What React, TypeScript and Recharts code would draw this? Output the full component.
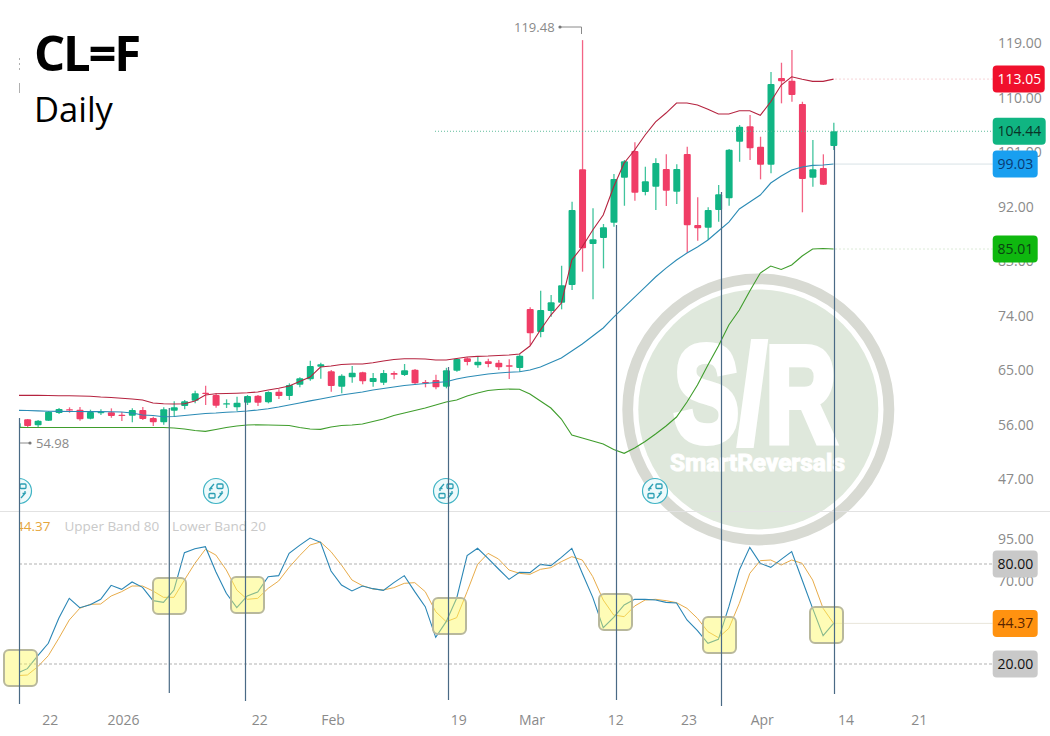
import { ComposedChart, Bar, Line, XAxis, YAxis, ReferenceLine } from 'recharts';

const PAGE_W = 1050;
const PLOT_LEFT = 11.67;
const AXIS_W = 64.62;
const LABEL_FONT = '"Open Sans", sans-serif';
const PRICE_DOMAIN = [41.95, 126.1];
const OSC_DOMAIN = [-5.2, 112.4];

// trading days, then the empty calendar days the platform leaves at the right
const dates = [
  '2025-12-17', '2025-12-18', '2025-12-19', '2025-12-22', '2025-12-23', '2025-12-24', '2025-12-26', '2025-12-29', '2025-12-30', '2025-12-31',
  '2026-01-02', '2026-01-05', '2026-01-06', '2026-01-07', '2026-01-08', '2026-01-09', '2026-01-12', '2026-01-13', '2026-01-14', '2026-01-15',
  '2026-01-16', '2026-01-20', '2026-01-21', '2026-01-22', '2026-01-23', '2026-01-26', '2026-01-27', '2026-01-28', '2026-01-29', '2026-01-30',
  '2026-02-02', '2026-02-03', '2026-02-04', '2026-02-05', '2026-02-06', '2026-02-09', '2026-02-10', '2026-02-11', '2026-02-12', '2026-02-13',
  '2026-02-17', '2026-02-18', '2026-02-19', '2026-02-20', '2026-02-23', '2026-02-24', '2026-02-25', '2026-02-26', '2026-02-27', '2026-03-02',
  '2026-03-03', '2026-03-04', '2026-03-05', '2026-03-06', '2026-03-09', '2026-03-10', '2026-03-11', '2026-03-12', '2026-03-13', '2026-03-16',
  '2026-03-17', '2026-03-18', '2026-03-19', '2026-03-20', '2026-03-23', '2026-03-24', '2026-03-25', '2026-03-26', '2026-03-27', '2026-03-30',
  '2026-03-31', '2026-04-01', '2026-04-02', '2026-04-06', '2026-04-07', '2026-04-08', '2026-04-09', '2026-04-10', '2026-04-13', '2026-04-14',
  '2026-04-15', '2026-04-16', '2026-04-17', '2026-04-18', '2026-04-19', '2026-04-20', '2026-04-21', '2026-04-22', '2026-04-23', '2026-04-24',
  '2026-04-25', '2026-04-26', '2026-04-27',
];

const xTicks = ['2025-12-22', '2026-01-02', '2026-01-22', '2026-02-02', '2026-02-19', '2026-03-02', '2026-03-12', '2026-03-23', '2026-04-01', '2026-04-14', '2026-04-21'];
const xTickLabels = ['22', '2026', '22', 'Feb', '19', 'Mar', '12', '23', 'Apr', '14', '21'];
const priceTicks = [47, 56, 65, 74, 83, 92, 101, 110, 119];
const oscTicks = [95, 70];

const opens = [
  55.48, 56.91, 55.92, 56.68, 57.95, 58.56, 58.50, 57.01, 57.95, 58.07,
  57.67, 57.51, 58.45, 57.12, 56.41, 58.33, 59.10, 59.98, 61.30, 60.92,
  59.39, 58.89, 59.65, 60.80, 59.72, 61.47, 60.76, 62.62, 63.51, 65.59,
  64.83, 62.29, 63.84, 64.67, 63.07, 62.95, 64.55, 64.22, 65.09, 63.07,
  63.40, 62.29, 64.93, 66.97, 65.82, 66.48, 66.25, 65.82, 65.37, 75.11,
  71.32, 74.78, 76.15, 79.07, 98.16, 85.84, 86.82, 89.35, 96.78, 101.18,
  94.42, 95.29, 98.21, 94.46, 100.69, 88.97, 88.52, 91.45, 93.37, 102.71,
  105.26, 101.89, 98.92, 113.23, 112.78, 108.93, 96.78, 98.38, 102.00,
];
const highs = [
  56.96, 56.96, 56.80, 58.28, 58.78, 58.89, 58.94, 58.50, 58.56, 58.72,
  58.12, 58.72, 58.94, 57.34, 58.89, 59.88, 60.10, 61.63, 62.45, 61.20,
  60.21, 60.64, 60.92, 60.92, 61.53, 61.86, 62.85, 63.84, 66.58, 66.25,
  65.05, 64.33, 65.70, 64.77, 64.55, 65.05, 64.83, 66.04, 65.21, 63.40,
  64.27, 65.41, 66.97, 67.14, 67.36, 66.91, 66.69, 66.81, 67.63, 75.39,
  78.13, 77.42, 82.25, 92.82, 119.48, 91.72, 89.14, 97.39, 99.70, 102.62,
  98.59, 99.97, 100.64, 98.99, 101.89, 93.54, 91.89, 95.57, 101.51, 105.47,
  107.12, 103.54, 114.22, 115.75, 117.85, 109.31, 102.99, 100.64, 105.85,
];
const lows = [
  54.98, 55.64, 55.60, 56.63, 57.79, 58.00, 56.68, 56.91, 57.62, 57.17,
  56.63, 56.41, 56.80, 55.80, 56.02, 57.34, 58.56, 59.55, 59.27, 58.83,
  58.78, 58.33, 59.27, 59.10, 59.55, 60.26, 60.10, 62.19, 63.28, 63.61,
  61.47, 61.20, 62.95, 62.68, 62.29, 62.57, 63.51, 64.06, 62.57, 62.19,
  61.86, 62.02, 64.77, 65.82, 65.42, 65.49, 65.05, 63.56, 64.77, 69.17,
  70.44, 73.84, 75.06, 78.25, 81.27, 76.71, 81.82, 88.69, 92.15, 92.98,
  93.87, 91.45, 92.10, 92.43, 84.39, 86.38, 86.50, 89.51, 92.15, 99.41,
  99.70, 96.51, 97.50, 109.05, 109.31, 91.07, 95.29, 95.57, 101.34,
];
const closes = [
  56.30, 55.80, 56.68, 58.17, 58.61, 58.40, 56.91, 58.12, 58.12, 57.46,
  57.46, 58.45, 56.96, 56.41, 58.56, 58.89, 59.88, 61.20, 61.09, 59.15,
  59.55, 59.65, 60.76, 59.65, 61.42, 60.76, 62.57, 63.67, 65.70, 65.99,
  62.40, 64.10, 64.60, 63.18, 63.73, 64.55, 64.27, 64.99, 62.85, 62.85,
  62.19, 64.99, 66.86, 66.36, 66.41, 66.04, 65.49, 65.59, 67.40, 71.10,
  74.95, 76.22, 79.02, 91.45, 85.12, 86.61, 88.59, 96.56, 99.48, 94.30,
  96.18, 99.20, 94.63, 98.21, 88.92, 88.43, 91.45, 94.03, 101.40, 105.19,
  101.63, 98.92, 112.24, 112.68, 110.42, 96.56, 98.16, 95.62, 104.44,
];

const upperBand = [
  60.87, 60.87, 60.87, 60.84, 60.80, 60.79, 60.76, 60.71, 60.59, 60.51,
  60.38, 60.26, 60.10, 59.60, 59.49, 59.44, 59.49, 59.93, 60.92, 61.14,
  61.17, 61.22, 61.30, 61.42, 61.75, 62.03, 62.41, 63.15, 63.89, 65.54,
  65.71, 65.95, 66.04, 66.04, 66.25, 66.53, 66.78, 66.91, 66.91, 66.86,
  66.69, 66.69, 66.94, 67.19, 67.30, 67.35, 67.44, 67.52, 67.69, 69.00,
  71.65, 74.12, 76.10, 83.20, 85.39, 88.15, 90.62, 95.29, 99.20, 101.35,
  103.82, 106.00, 107.45, 109.10, 109.10, 108.77, 108.06, 107.29, 107.29, 107.83,
  107.83, 107.07, 109.31, 112.07, 113.44, 113.01, 112.68, 112.68, 113.05,
];
const midBand = [
  58.40, 58.36, 58.31, 58.25, 58.23, 58.21, 58.20, 58.18, 58.18, 58.16,
  58.11, 57.95, 57.62, 57.54, 57.34, 57.37, 57.54, 57.70, 57.87, 57.95,
  58.08, 58.16, 58.28, 58.45, 58.66, 58.94, 59.27, 59.60, 59.96, 60.26,
  60.59, 60.92, 61.17, 61.42, 61.75, 61.99, 62.24, 62.49, 62.65, 62.82,
  62.98, 63.11, 63.56, 63.89, 64.14, 64.39, 64.55, 64.67, 64.77, 65.05,
  65.54, 66.28, 67.02, 68.18, 69.34, 70.66, 71.98, 73.79, 75.44, 77.09,
  78.74, 80.39, 81.87, 83.20, 84.35, 85.34, 86.50, 87.98, 89.46, 91.61,
  92.76, 93.92, 95.90, 97.06, 98.05, 98.54, 98.82, 98.87, 99.03,
];
const lowerBand = [
  55.59, 55.56, 55.56, 55.56, 55.56, 55.56, 55.56, 55.56, 55.56, 55.56,
  55.56, 55.56, 55.56, 55.56, 55.56, 55.48, 55.31, 55.06, 54.93, 55.23,
  55.56, 55.81, 55.97, 56.02, 55.97, 55.94, 55.89, 55.56, 55.31, 55.26,
  55.64, 55.89, 55.97, 56.14, 56.55, 56.96, 57.54, 57.95, 58.36, 58.78,
  59.27, 59.77, 60.10, 60.76, 61.25, 61.66, 61.83, 61.91, 61.88, 61.09,
  59.93, 58.78, 56.96, 54.32, 53.82, 53.33, 52.84, 51.93, 51.30, 52.17,
  53.25, 54.49, 55.81, 57.29, 59.77, 62.57, 65.87, 69.00, 72.47, 74.95,
  78.08, 81.05, 82.21, 81.63, 82.37, 83.86, 85.01, 85.10, 85.01,
];

const stochK = [
  14.4, 17.2, 25.0, 32.4, 47.4, 59.4, 53.8, 55.6, 58.8, 67.2,
  64.8, 69.2, 66.0, 58.0, 57.0, 64.4, 86.8, 89.2, 90.4, 75.4,
  62.4, 53.8, 60.8, 63.2, 72.4, 73.0, 86.4, 91.2, 95.6, 93.0,
  75.8, 67.4, 63.8, 66.8, 65.2, 64.2, 68.8, 73.0, 63.4, 54.4,
  36.0, 45.4, 59.4, 85.0, 89.4, 83.4, 77.0, 70.8, 75.0, 74.8,
  79.8, 79.0, 84.0, 89.4, 74.4, 60.0, 41.8, 48.0, 55.4, 58.8,
  58.8, 58.4, 57.0, 56.6, 46.4, 40.0, 32.4, 34.8, 54.4, 76.4,
  90.0, 80.4, 78.0, 82.8, 87.4, 70.4, 53.4, 37.0, 44.37,
];
const stochD = [
  13.0, 13.4, 18.4, 25.0, 35.4, 46.4, 53.4, 55.8, 56.0, 60.8,
  63.4, 66.8, 66.8, 63.8, 60.0, 60.0, 70.4, 80.4, 88.8, 85.4,
  76.4, 64.4, 58.8, 59.4, 65.4, 69.8, 78.0, 85.0, 91.4, 93.2,
  87.4, 79.4, 70.4, 67.0, 65.0, 64.4, 65.8, 68.4, 68.8, 63.4,
  51.4, 45.4, 47.8, 63.4, 79.8, 86.4, 83.0, 76.4, 74.4, 73.8,
  76.8, 77.8, 81.4, 84.4, 82.4, 72.4, 58.4, 49.4, 48.4, 54.8,
  58.4, 58.8, 58.0, 56.8, 53.4, 47.4, 39.4, 35.8, 41.4, 56.4,
  74.4, 82.0, 82.4, 79.4, 82.4, 80.4, 70.4, 53.4, 44.37,
];

const rows = dates.map((date, i) => ({
  date,
  open: opens[i],
  high: highs[i],
  low: lows[i],
  close: closes[i],
  upper: upperBand[i],
  mid: midBand[i],
  lower: lowerBand[i],
  k: stochK[i],
  d: stochD[i],
}));

const priceTags = [
  { value: 113.05, text: '113.05', bg: '#f0102c', color: '#ffffff', w: 52, from: 835, stroke: '#f5cfd2', dash: '2 2' },
  { value: 104.44, text: '104.44', bg: '#10b582', color: '#0a3327', w: 53, from: 435, stroke: '#4fb592', dash: '1 2' },
  { value: 99.03, text: '99.03', bg: '#199ff0', color: '#0a3a72', w: 45, from: 835, stroke: '#d4dfe4', dash: '' },
  { value: 85.01, text: '85.01', bg: '#0fb80f', color: '#0a4412', w: 45, from: 835, stroke: '#d8e6d2', dash: '2 2' },
];
const oscTags = [
  { value: 80, text: '80.00', bg: '#c9c9c9', color: '#111111', w: 45, from: 19, stroke: '#a8a8a8', dash: '3 2' },
  { value: 44.37, text: '44.37', bg: '#ff9210', color: '#5a2500', w: 45, from: 835, stroke: '#e6e2d6', dash: '' },
  { value: 20, text: '20.00', bg: '#c9c9c9', color: '#111111', w: 45, from: 19, stroke: '#a8a8a8', dash: '3 2' },
];

// hand-drawn marks on top of the screenshot
const noteBoxes = [
  [4, 650], [153, 578], [231, 577], [433, 598], [599, 594], [703, 617], [810, 607],
];
const noteLines = [
  [19.5, 418, 704], [169.3, 408, 693], [245.5, 397, 701], [448.5, 367, 700], [616.5, 225, 700], [721.5, 192, 706], [834.5, 146, 694],
];
const eventIcons = [19, 216, 446, 655];

function Candle(props: any) {
  const { x, y, width, height, payload } = props;
  if (payload.high == null || !height) return null;
  const { open, high, low, close } = payload;
  const up = close >= open;
  const color = up ? '#11b584' : '#f03d66';
  const perUnit = height / (high - low);
  const top = y + (high - Math.max(open, close)) * perUnit;
  const bodyH = Math.max(Math.abs(close - open) * perUnit, 1.2);
  const cx = x + width / 2;
  return (
    <g>
      <line x1={cx} x2={cx} y1={y} y2={y + height} stroke={color} strokeOpacity={0.8} strokeWidth={1.3} />
      <rect x={x} y={top} width={width} height={bodyH} rx={1} fill={color} />
    </g>
  );
}

function TagLine(props: any) {
  const { y1, tag } = props;
  const left = 992.7;
  return (
    <g>
      <line x1={tag.from} x2={left} y1={y1} y2={y1} stroke={tag.stroke} strokeWidth={0.9} strokeDasharray={tag.dash} />
      <rect x={left} y={y1 - 13.5} width={tag.w} height={27} rx={4} fill={tag.bg} />
      <text x={997.5} y={y1 + 5} fontSize={14} fontFamily={LABEL_FONT} fill={tag.color}>{tag.text}</text>
    </g>
  );
}

// same scales as the panes below it, so the tags can sit on top of the axis labels
function TagLayer({ height, bottom, domain, tags, anchorKey }: any) {
  return (
    <ComposedChart width={PAGE_W} height={height} data={rows} margin={{ top: 0, right: AXIS_W, bottom, left: PLOT_LEFT }}>
      <XAxis dataKey="date" hide scale="band" />
      <YAxis hide domain={domain} />
      <Line dataKey={anchorKey} stroke="none" dot={false} isAnimationActive={false} />
      {tags.map((tag: any) => (
        <ReferenceLine key={tag.text} y={tag.value} shape={(p: any) => <TagLine {...p} tag={tag} />} />
      ))}
    </ComposedChart>
  );
}

function EventIcon({ cx }: { cx: number }) {
  return (
    <g transform={`translate(${cx},491)`}>
      <circle r={12.5} fill="#eefafb" stroke="#3fb3c4" strokeWidth={1.2} />
      <g fill="none" stroke="#2a9fb3" strokeWidth={1.3}>
        <rect x={1} y={-7} width={6} height={4.5} rx={1} />
        <rect x={-7} y={2.5} width={6} height={4.5} rx={1} />
        <path d="M-2 -7 L-6 -2.5 L-3.5 -2.5 M-6 -2.5 L-6 0" />
        <path d="M2 7 L6 2.5 L3.5 2.5 M6 2.5 L6 0" />
      </g>
    </g>
  );
}

function Watermark() {
  return (
    <svg width={PAGE_W} height={736} style={{ position: 'absolute', left: 0, top: 0 }}>
      <circle cx={758.3} cy={409.4} r={130.6} fill="none" stroke="#d8dad3" strokeWidth={10.8} />
      <circle cx={758.3} cy={409.4} r={120} fill="#dfe8dc" />
      <text x={674} y={441} fontSize={136} fontWeight={700} fontFamily="Liberation Sans" fill="#ffffff" stroke="#ffffff" strokeWidth={8} textLength={162} lengthAdjust="spacingAndGlyphs">S/R</text>
      <text x={670} y={471} fontSize={23} fontWeight={700} fontFamily="Roboto" fill="#ffffff" stroke="#ffffff" strokeWidth={1} textLength={175} lengthAdjust="spacingAndGlyphs">SmartReversals</text>
    </svg>
  );
}

function Notes() {
  return (
    <svg width={PAGE_W} height={736} style={{ position: 'absolute', left: 0, top: 0 }}>
      {noteBoxes.map(([x, y]) => (
        <rect key={x} x={x} y={y} width={33} height={36} rx={5} fill="#fcf95e" fillOpacity={0.45} stroke="#b8b89c" strokeWidth={2} />
      ))}
      {noteLines.map(([x, y1, y2]) => (
        <line key={x} x1={x} x2={x} y1={y1} y2={y2} stroke="#4a6a85" strokeWidth={1.2} />
      ))}
      <text x={34} y={70.5} fontSize={49} fontWeight={700} letterSpacing={-2.2} fontFamily={LABEL_FONT} fill="#000000">CL=F</text>
      <text x={34} y={122} fontSize={34.5} fontFamily={LABEL_FONT} fill="#000000">Daily</text>
      <text x={514} y={32} fontSize={13} fontFamily={LABEL_FONT} fill="#8a8a8a">119.48</text>
      <path d="M560 27 H581.5 V34" fill="none" stroke="#8a8a8a" strokeWidth={1} />
      <circle cx={560} cy={27} r={1.6} fill="#777777" />
      <text x={36} y={448} fontSize={13} fontFamily={LABEL_FONT} fill="#8a8a8a">54.98</text>
      <path d="M20 443 H30" fill="none" stroke="#8a8a8a" strokeWidth={1} />
      <circle cx={30} cy={443} r={1.6} fill="#777777" />
      <line x1={19.5} x2={19.5} y1={58} y2={70} stroke="#b0b0b0" strokeDasharray="2 3" />
      <line x1={19.5} x2={19.5} y1={83} y2={93} stroke="#b0b0b0" />
    </svg>
  );
}

export default function App() {
  return (
    <div style={{ position: 'absolute', left: 0, top: 0, width: PAGE_W, height: 736, background: '#ffffff', overflow: 'hidden' }}>
      <Watermark />
      <div style={{ position: 'absolute', left: 0, top: 510.5, width: PAGE_W, height: 1, background: '#e2e2e2' }} />
      <div style={{ position: 'absolute', left: 0, top: 0, width: PAGE_W, height: 736, clipPath: 'inset(0 0 0 19px)' }}>
        <div style={{ position: 'absolute', left: 0, top: 0 }}>
          <ComposedChart width={PAGE_W} height={510} data={rows} margin={{ top: 0, right: 0, bottom: 0, left: PLOT_LEFT }} barCategoryGap={0}>
            <XAxis dataKey="date" hide scale="band" padding={{ left: 0, right: 0 }} />
            <YAxis
              orientation="right"
              width={AXIS_W}
              domain={PRICE_DOMAIN}
              ticks={priceTicks}
              interval={0}
              axisLine={false}
              tickLine={false}
              tickSize={0}
              tickMargin={12.6}
              tickFormatter={(v: number) => v.toFixed(2)}
              tick={{ fontSize: 14, fontFamily: LABEL_FONT, fill: '#8a8a8a' }}
            />
            <Bar dataKey={(d: any) => (d.high == null ? null : [d.low, d.high])} barSize={7} shape={<Candle />} isAnimationActive={false} />
            <Line dataKey="upper" stroke="#b5233f" strokeWidth={1.1} dot={false} isAnimationActive={false} />
            <Line dataKey="mid" stroke="#2b8bb5" strokeWidth={1.1} dot={false} isAnimationActive={false} />
            <Line dataKey="lower" stroke="#3f9d2c" strokeWidth={1.1} dot={false} isAnimationActive={false} />
          </ComposedChart>
        </div>
        <div style={{ position: 'absolute', left: 0, top: 0 }}>
          <TagLayer height={510} bottom={0} domain={PRICE_DOMAIN} tags={priceTags} anchorKey="mid" />
        </div>
        <svg width={PAGE_W} height={510} style={{ position: 'absolute', left: 0, top: 0 }}>
          {eventIcons.map((cx) => <EventIcon key={cx} cx={cx} />)}
        </svg>
        <div style={{ position: 'absolute', left: 0, top: 510 }}>
          <ComposedChart width={PAGE_W} height={226} data={rows} margin={{ top: 0, right: 0, bottom: 0, left: PLOT_LEFT }}>
            <XAxis
              dataKey="date"
              scale="band"
              height={30}
              ticks={xTicks}
              interval={0}
              axisLine={false}
              tickLine={false}
              tickSize={0}
              tickMargin={9}
              tickFormatter={(v: string) => xTickLabels[xTicks.indexOf(v)]}
              tick={{ fontSize: 14, fontFamily: LABEL_FONT, fill: '#8a8a8a', dx: 2 }}
            />
            <YAxis
              orientation="right"
              width={AXIS_W}
              domain={OSC_DOMAIN}
              ticks={oscTicks}
              interval={0}
              axisLine={false}
              tickLine={false}
              tickSize={0}
              tickMargin={12.6}
              tickFormatter={(v: number) => v.toFixed(2)}
              tick={{ fontSize: 14, fontFamily: LABEL_FONT, fill: '#8a8a8a' }}
            />
            <Line dataKey="d" stroke="#e8ac4a" strokeWidth={1} dot={false} isAnimationActive={false} />
            <Line dataKey="k" stroke="#2a86b5" strokeWidth={1.1} dot={false} isAnimationActive={false} />
          </ComposedChart>
        </div>
        <div style={{ position: 'absolute', left: 0, top: 510 }}>
          <TagLayer height={226} bottom={30} domain={OSC_DOMAIN} tags={oscTags} anchorKey="k" />
        </div>
        <div style={{ position: 'absolute', left: 16, top: 517, fontFamily: LABEL_FONT, fontSize: 13.5, whiteSpace: 'nowrap' }}>
          <span style={{ color: '#e6a63c' }}>44.37</span>
          <span style={{ color: '#c9c9c9', marginLeft: 14 }}>Upper Band 80</span>
          <span style={{ color: '#c9c9c9', marginLeft: 13 }}>Lower Band 20</span>
        </div>
      </div>
      <Notes />
    </div>
  );
}
